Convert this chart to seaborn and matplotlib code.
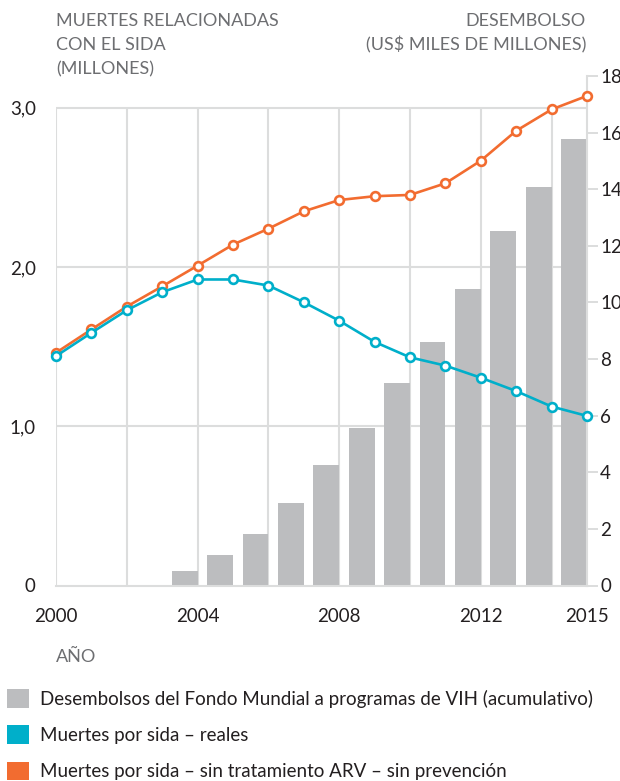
import numpy as np
import pandas as pd
import matplotlib
matplotlib.use("Agg")
import matplotlib.pyplot as plt
from matplotlib.patches import Patch
import seaborn as sns

# Datos
años = list(range(2000, 2016))
muertes_sin_arv = [1.462, 1.608, 1.752, 1.879, 2.009, 2.141, 2.241, 2.350,
                   2.421, 2.445, 2.453, 2.526, 2.668, 2.856, 2.990, 3.075]
muertes_reales = [1.441, 1.587, 1.729, 1.842, 1.922, 1.922, 1.884, 1.779,
                  1.663, 1.530, 1.433, 1.381, 1.305, 1.221, 1.124, 1.065]
años_desembolso = list(range(2004, 2016))
desembolso = [0.50, 1.07, 1.81, 2.90, 4.24, 5.58, 7.14, 8.62,
              10.46, 12.53, 14.09, 15.78]

ticks_izq = [0, 1, 2, 3]
etiquetas_izq = ["0", "1,0", "2,0", "3,0"]
ticks_der = list(range(0, 19, 2))
ticks_x = [2000, 2004, 2008, 2012, 2015]
años_rejilla = list(range(2000, 2015, 2))

titulo_izq = ["MUERTES RELACIONADAS", "CON EL SIDA", "(MILLONES)"]
titulo_der = ["DESEMBOLSO", "(US$ MILES DE MILLONES)"]
etiqueta_x = "AÑO"
leyenda = ["Desembolsos del Fondo Mundial a programas de VIH (acumulativo)",
           "Muertes por sida – reales",
           "Muertes por sida – sin tratamiento ARV – sin prevención"]

# Estilo
NARANJA = "#f26c30"
AZUL = "#00afca"
GRIS_BARRA = "#bcbdbf"
REJILLA = "#dcdddd"
TEXTO = "#231f20"
TEXTO_GRIS = "#6d6e71"
ANCHO = 0.73
FS_TICK = 13.5
FS_TITULO = 13
FS_LEYENDA = 13.5

sns.set_theme(style="white")
plt.rcParams["font.family"] = ["Lato", "DejaVu Sans"]

W, H = 620, 781
fig = plt.figure(figsize=(W / 100, H / 100), dpi=100)
fig.patch.set_facecolor("white")

x0, x1 = 56, 587
y_top, y_bot = 76, 585.5
ax_bar = fig.add_axes([x0 / W, 1 - y_bot / H, (x1 - x0) / W, (y_bot - y_top) / H])
ax_line = ax_bar.twinx()

# Barras: cada barra termina en su año
df_bar = pd.DataFrame({"pos": np.array(años_desembolso) - ANCHO / 2,
                       "desembolso": desembolso})
sns.barplot(data=df_bar, x="pos", y="desembolso", native_scale=True,
            width=ANCHO, color=GRIS_BARRA, saturation=1, linewidth=0,
            errorbar=None, ax=ax_bar, zorder=2)

# Rejilla en unidades del eje izquierdo, detrás de las barras
ax_bar.vlines(años_rejilla, 0, 3, transform=ax_line.transData,
              colors=REJILLA, linewidth=1.5, zorder=1)
ax_bar.hlines([1, 2, 3], 2000, 2015, transform=ax_line.transData,
              colors=REJILLA, linewidth=1.5, zorder=1)

# Líneas
df_lin = pd.DataFrame({"año": años, "sin_arv": muertes_sin_arv,
                       "reales": muertes_reales})
for col, c in [("sin_arv", NARANJA), ("reales", AZUL)]:
    sns.lineplot(data=df_lin, x="año", y=col, ax=ax_line, color=c,
                 linewidth=1.9, marker="o", markersize=6.3,
                 markerfacecolor="white", markeredgecolor=c,
                 markeredgewidth=1.9, clip_on=False, zorder=3)

# Ejes
ax_bar.set_xlim(2000, 2015)
ax_bar.set_ylim(0, 18)
ax_line.set_ylim(0, 3.2)
ax_line.set_xlim(2000, 2015)

ax_bar.set_xticks(ticks_x)
ax_bar.set_xticklabels([str(t) for t in ticks_x])
ax_bar.set_yticks(ticks_der)
ax_bar.set_yticklabels([str(t) for t in ticks_der])
ax_bar.yaxis.tick_right()
ax_bar.tick_params(axis="y", right=True, left=False, labelright=True,
                   labelleft=False, length=8, width=1.4, color=REJILLA,
                   pad=1.5, labelsize=FS_TICK, labelcolor=TEXTO)
ax_bar.tick_params(axis="x", length=0, pad=16, labelsize=FS_TICK,
                   labelcolor=TEXTO)

ax_line.set_yticks(ticks_izq)
ax_line.set_yticklabels(etiquetas_izq)
ax_line.yaxis.tick_left()
ax_line.tick_params(axis="y", left=False, right=False, labelleft=True,
                    labelright=False, pad=8.5, labelsize=FS_TICK,
                    labelcolor=TEXTO)

for a in (ax_bar, ax_line):
    a.set_xlabel("")
    a.set_ylabel("")
    for s in a.spines.values():
        s.set_visible(False)
for lado in ("bottom", "right"):
    ax_bar.spines[lado].set_visible(True)
    ax_bar.spines[lado].set_color(REJILLA)
    ax_bar.spines[lado].set_linewidth(1.5)

# Títulos de los ejes
for i, t in enumerate(titulo_izq):
    fig.text(56 / W, 1 - (26 + 24 * i) / H, t, ha="left", va="baseline",
             fontsize=FS_TITULO, color=TEXTO_GRIS)
for i, t in enumerate(titulo_der):
    fig.text(586 / W, 1 - (26 + 24 * i) / H, t, ha="right", va="baseline",
             fontsize=FS_TITULO, color=TEXTO_GRIS)
fig.text(56 / W, 1 - 657 / H, etiqueta_x, ha="left", va="center",
         fontsize=FS_TITULO, color=TEXTO_GRIS)

# Leyenda
handles = [Patch(facecolor=GRIS_BARRA, edgecolor="none"),
           Patch(facecolor=AZUL, edgecolor="none"),
           Patch(facecolor=NARANJA, edgecolor="none")]
fig.legend(handles, leyenda, loc="upper left",
           bbox_to_anchor=(7 / W, 1 - 689 / H), frameon=False,
           borderpad=0, borderaxespad=0, fontsize=FS_LEYENDA,
           handlelength=1.17, handleheight=1.17, handletextpad=0.59,
           labelspacing=0.93, labelcolor=TEXTO)

fig.savefig("out.png", dpi=100)
